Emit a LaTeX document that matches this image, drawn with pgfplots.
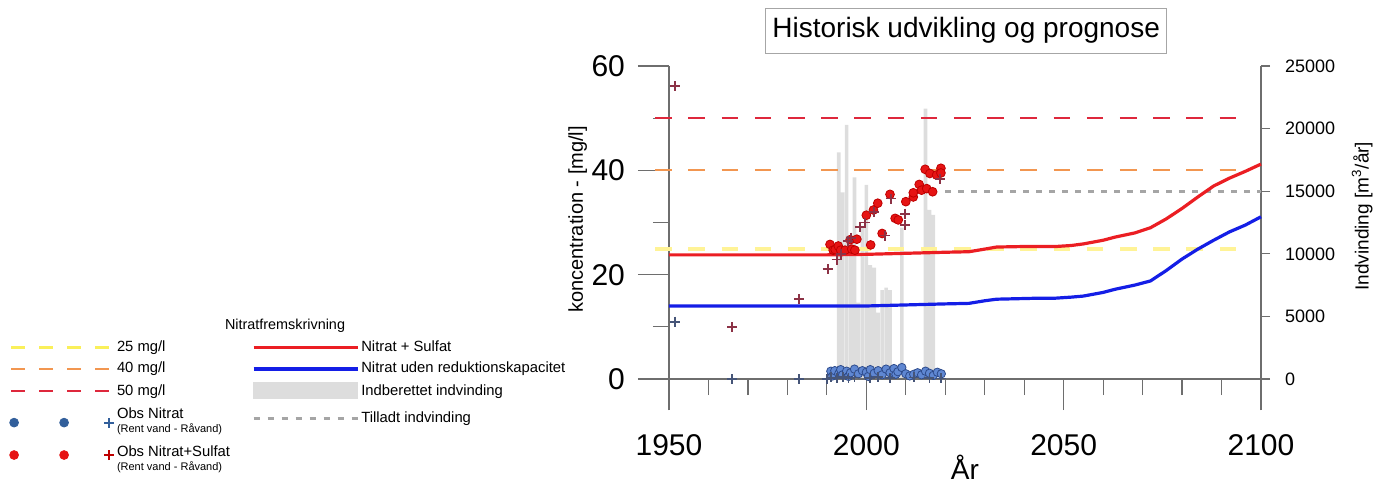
\documentclass[border=0pt]{standalone}
\usepackage{pgfplots}
\pgfplotsset{compat=1.18}
\usepackage{fontspec}
\setmainfont{Liberation Sans}

\definecolor{redline}{RGB}{235,30,35}
\definecolor{blueline}{RGB}{20,30,230}
\definecolor{lim25}{RGB}{255,243,150}
\definecolor{lim25l}{RGB}{250,240,90}
\definecolor{lim40}{RGB}{242,150,80}
\definecolor{lim50}{RGB}{222,40,60}
\definecolor{barfill}{RGB}{221,221,221}
\definecolor{tilladt}{RGB}{165,165,165}
\definecolor{obsred}{RGB}{230,20,20}
\definecolor{obsredE}{RGB}{190,0,0}
\definecolor{obsblue}{RGB}{95,135,210}
\definecolor{obsblueE}{RGB}{45,75,140}
\definecolor{obsblueL}{RGB}{50,95,155}
\definecolor{crossred}{RGB}{140,50,70}
\definecolor{crossblue}{RGB}{70,85,120}
\definecolor{axgray}{RGB}{110,110,110}

\pgfplotsset{
  base/.style={width=296pt, height=156.5pt, scale only axis, xmin=1950, xmax=2100,
    clip=false, axis line style={axgray, line width=0.6pt, -},
    tick style={axgray, line width=0.6pt}, tick align=outside,
    /pgf/number format/assume math mode=true},
  lgline/.style={legend image code/.code={\draw[##1] (0pt,0pt) -- (#1,0pt);}},
  lgbar/.style={legend image code/.code={\fill[barfill] (0pt,-3.5pt) rectangle (52pt,4.5pt);}},
  lgobs/.style n args={4}{legend image code/.code={
      \path (0pt,#4);
      \fill[#1] (1.5pt,#3) circle (2.2pt);
      \fill[#1] (26.5pt,#3) circle (2.2pt);
      \draw[#2, line width=0.9pt] ([yshift=-2.5pt]49pt,#3) -- ([yshift=2.5pt]49pt,#3)
        ([xshift=-2.5pt]49pt,#3) -- ([xshift=2.5pt]49pt,#3);}},
}

\begin{document}
\begin{tikzpicture}
\path[use as bounding box] (-334.5pt,-52.5pt) rectangle (358pt,189.5pt);

% right axis: indvinding
\begin{axis}[base, ymin=0, ymax=25000,
  axis x line=none, axis y line*=right,
  y axis line style={shorten <=-15.5pt},
  ytick={0,5000,10000,15000,20000,25000}, major tick length=4.5pt,
  scaled y ticks=false,
  yticklabel style={font=\fontsize{9}{10}\selectfont, /pgf/number format/1000 sep={}, xshift=4pt},
  ylabel={Indvinding [m\textsuperscript{3}/år]},
  ylabel style={font=\fontsize{9.5}{11}\selectfont, at={(axis description cs:1.171,0.52)}, anchor=center},
]
\addplot[ybar, bar width=1.8pt, fill=barfill, draw=none] coordinates {
 (1993,18100) (1994,14900) (1995,20300) (1996,11000) (1997,16100) (1998,6100)
 (1999,12100) (2000,15500) (2001,9100) (2002,8900) (2003,5300) (2004,7100)
 (2005,7300) (2006,7100) (2009,12100) (2015,21600) (2016,13500) (2017,13100)
};
\addplot[tilladt, line width=1.3pt, dash pattern=on 3pt off 3.5pt] coordinates {(2020,15000) (2100,15000)};
\end{axis}

% left axis: koncentration
\begin{axis}[base, ymin=0, ymax=60,
  axis x line*=bottom, axis y line*=left,
  y axis line style={shorten <=-15.5pt},
  xtick={1950,2000,2050,2100},
  minor xtick={1960,1970,1980,1990,2010,2020,2030,2040,2060,2070,2080,2090},
  ytick={0,20,40,60}, minor ytick={10,30,50},
  major tick length=15.5pt, minor tick length=8pt,
  xticklabel style={font=\fontsize{15}{17}\selectfont, /pgf/number format/1000 sep={}, yshift=-8.5pt},
  yticklabel style={font=\fontsize{15}{17}\selectfont, xshift=-3pt},
  xlabel={År},
  xlabel style={font=\fontsize{14}{16}\selectfont, at={(axis description cs:0.5,-0.283)}, anchor=center},
  ylabel={koncentration - [mg/l]},
  ylabel style={font=\fontsize{10}{12}\selectfont, at={(axis description cs:-0.154,0.51)}, anchor=center},
  legend columns=2, legend cell align=left,
  legend style={at={(axis description cs:-1.115,0.131)}, anchor=north west,
    draw=none, fill=none, inner sep=0pt, row sep=2pt,
    font=\fontsize{7.4}{8.5}\selectfont, nodes={inner sep=1pt},
    /tikz/every even column/.append style={column sep=10pt}},
]
\addplot[lim25, line width=2pt, dash pattern=on 8.3pt off 8.3pt, forget plot] coordinates {(1946.5,25) (2097,25)};
\addplot[lim40, line width=1pt, dash pattern=on 8.3pt off 8.3pt, forget plot] coordinates {(1946.5,40) (2097,40)};
\addplot[lim50, line width=1pt, dash pattern=on 8.3pt off 8.3pt, forget plot] coordinates {(1946.5,50) (2097,50)};

% Nitrat + Sulfat
\addplot[redline, line width=1.6pt, forget plot] coordinates {
 (1950,23.8) (1970,23.8) (1990,23.8) (2000,23.9) (2010,24.1) (2020,24.3) (2026,24.4)
 (2030,24.9) (2033,25.3) (2040,25.4) (2048,25.4) (2052,25.6) (2055,25.9) (2060,26.6)
 (2063,27.2) (2068,28.0) (2072,29.0) (2076,30.7) (2080,32.7) (2084,34.9) (2088,37.0)
 (2092,38.5) (2096,39.8) (2100,41.2)
};
% Nitrat uden reduktionskapacitet
\addplot[blueline, line width=1.6pt, forget plot] coordinates {
 (1950,14.0) (1990,14.0) (2000,14.0) (2010,14.2) (2020,14.4) (2026,14.5) (2030,15.0)
 (2033,15.3) (2044,15.5) (2048,15.5) (2052,15.7) (2055,15.9) (2060,16.6) (2063,17.2)
 (2068,18.0) (2072,18.8) (2076,20.8) (2080,23.0) (2084,24.9) (2088,26.6) (2092,28.2)
 (2096,29.5) (2100,31.1)
};

% Obs Nitrat (rent vand)
\addplot[only marks, mark=*, mark size=2.1pt, draw=obsblueE, fill=obsblue, line width=0.4pt, forget plot] coordinates {
 (1991,1.5) (1991.5,0.6) (1992,1.6) (1993,1.0) (1993.5,1.8) (1994,0.8) (1995,1.5)
 (1995.5,0.5) (1996,1.2) (1997,1.9) (1998,1.0) (1999,1.6) (2000,1.3) (2000.5,0.5)
 (2001,1.8) (2002,1.1) (2003,1.6) (2004,0.8) (2005,1.9) (2006,1.2) (2007,2.0)
 (2007.5,0.9) (2008,1.4) (2009,2.2) (2010,1.0) (2011,0.6) (2012,0.9) (2013,1.2)
 (2014,0.8) (2015,1.5) (2016,1.1) (2017,0.7) (2018,1.3) (2019,1.0)
};
% Obs Nitrat (raavand)
\addplot[only marks, mark=+, mark size=2.5pt, crossblue, line width=0.9pt, forget plot] coordinates {
 (1951.5,11.0) (1966,0) (1983,0) (1990,0) (1991,0.3) (1992.5,0.2) (1994,0.4)
 (1995.5,0.1) (1997,0.3) (2001,0.2) (2003,0.4) (2006,0.2) (2012,0.3) (2016,0.2) (2019,0.1)
};
% Obs Nitrat+Sulfat (rent vand)
\addplot[only marks, mark=*, mark size=2.2pt, draw=obsredE, fill=obsred, line width=0.4pt, forget plot] coordinates {
 (1990.8,25.8) (1991.6,24.7) (1992.1,24.8) (1992.9,25.5) (1993.5,24.7) (1994.6,24.7)
 (1995.9,26.7) (1996.3,24.9) (1997.1,24.7) (1997.6,26.8) (2000,31.4) (2001.1,25.7)
 (2001.8,32.4) (2002.9,33.7) (2004,27.9) (2006,35.4) (2007.3,30.8) (2008.1,30.5)
 (2010,34.0) (2011.9,34.9) (2011.9,35.7) (2013.4,37.3) (2014,36.2) (2015.3,36.5)
 (2016.8,35.9) (2014.9,40.2) (2016.1,39.4) (2017.8,39.1) (2018.9,40.4) (2018.9,39.5)
};
% Obs Nitrat+Sulfat (raavand)
\addplot[only marks, mark=+, mark size=2.5pt, crossred, line width=0.9pt, forget plot] coordinates {
 (1951.5,56.1) (1966,9.9) (1983,15.3) (1990.2,21.1) (1992.5,22.9) (1993.5,24.0)
 (1995.4,26.5) (1996.1,27.1) (1998.4,29.2) (1999.7,30.0) (2002,32.0) (2004.7,27.5)
 (2006.2,34.6) (2009.8,31.7) (2009.8,29.5) (2018.7,38.4)
};

% legend, row by row
\addlegendimage{lgline=49pt, lim25l, line width=1.6pt, dash pattern=on 7pt off 7pt}
\addlegendentry{25 mg/l}
\addlegendimage{lgline=52pt, redline, line width=1.6pt}
\addlegendentry{Nitrat + Sulfat}
\addlegendimage{lgline=49pt, lim40, line width=1.2pt, dash pattern=on 7pt off 7pt}
\addlegendentry{40 mg/l}
\addlegendimage{lgline=52pt, blueline, line width=1.6pt}
\addlegendentry{Nitrat uden reduktionskapacitet}
\addlegendimage{lgline=49pt, lim50, line width=1.2pt, dash pattern=on 7pt off 7pt}
\addlegendentry{50 mg/l}
\addlegendimage{lgbar}
\addlegendentry{Indberettet indvinding}
\addlegendimage{lgobs={obsblueL}{obsblueL}{-2pt}{-10pt}}
\addlegendentry{\raisebox{1.5pt}{\begin{tabular}[c]{@{}l@{}}Obs Nitrat\\[-1.5pt]{\fontsize{5.5}{6}\selectfont (Rent vand - Råvand)}\end{tabular}}}
\addlegendimage{lgline=52pt, tilladt, line width=1.3pt, dash pattern=on 3pt off 4pt}
\addlegendentry{Tilladt indvinding}
\addlegendimage{lgobs={obsred}{obsredE}{0.5pt}{0pt}}
\addlegendentry{\begin{tabular}[c]{@{}l@{}}Obs Nitrat+Sulfat\\[-1.5pt]{\fontsize{5.5}{6}\selectfont (Rent vand - Råvand)}\end{tabular}}

\node[draw=gray!70, line width=0.6pt, minimum width=199pt, minimum height=22.5pt,
  font=\fontsize{14}{16}\selectfont] at (axis description cs:0.502,1.113) {Historisk udvikling og prognose};
\node[font=\fontsize{7.2}{8}\selectfont] at (axis description cs:-0.6486,0.169) {Nitratfremskrivning};
\end{axis}
\end{tikzpicture}
\end{document}
